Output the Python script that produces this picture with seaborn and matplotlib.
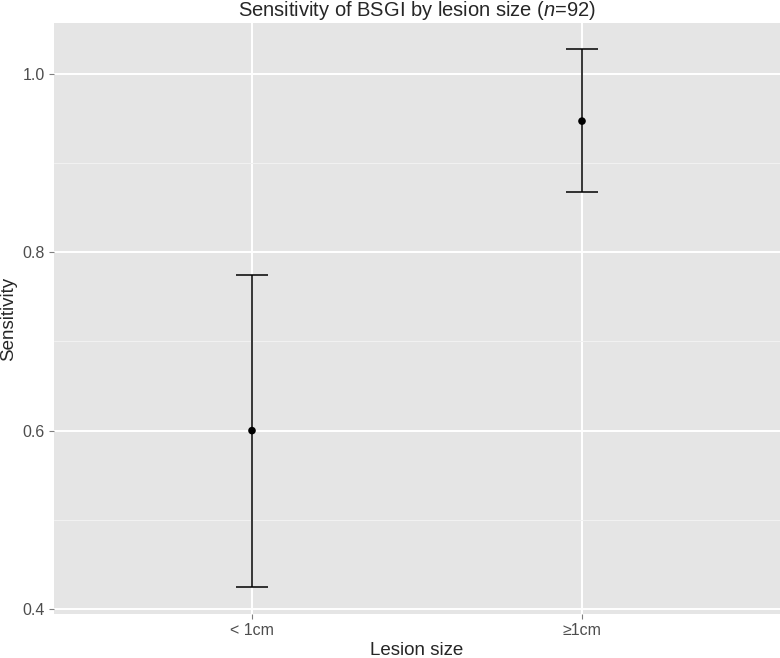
import numpy as np
import seaborn as sns
import pandas as pd
import matplotlib.pyplot as plt

# values
sizes = ['< 1cm', '\u22651cm']
sens = [0.600, 0.947]
lower = [0.425, 0.868]
upper = [0.775, 1.028]

df = pd.DataFrame({'Lesion size': sizes, 'Sensitivity': sens})

sns.set_theme(style="darkgrid")
plt.rcParams['font.family'] = ['Liberation Sans', 'DejaVu Sans']
plt.rcParams['mathtext.fontset'] = 'custom'
plt.rcParams['mathtext.rm'] = 'Liberation Sans'
plt.rcParams['mathtext.it'] = 'Liberation Sans:italic'

fig = plt.figure(figsize=(7.8, 6.58), dpi=100)
ax = fig.add_axes([54/780, 44/658, 726/780, 591/658])
ax.set_facecolor('#e5e5e5')

sns.scatterplot(data=df, x='Lesion size', y='Sensitivity', ax=ax,
                color='black', s=30, edgecolor='none', zorder=4)
err = [np.array(sens) - np.array(lower), np.array(upper) - np.array(sens)]
ax.errorbar(range(len(sizes)), sens, yerr=err, fmt='none', ecolor='black',
            elinewidth=1.1, capsize=11.5, capthick=1.1, zorder=3)

ax.set_xlim(-0.6, 1.6)
ax.set_ylim(0.3944, 1.057)
ax.set_yticks([0.4, 0.6, 0.8, 1.0])
ax.set_yticklabels(['0.4', '0.6', '0.8', '1.0'])
ax.set_yticks([0.5, 0.7, 0.9], minor=True)
ax.grid(which='major', color='white', linewidth=1.4)
ax.grid(which='minor', axis='y', color='#f2f2f2', linewidth=0.7)
ax.grid(which='minor', axis='x', visible=False)
for s in ax.spines.values():
    s.set_visible(False)
ax.tick_params(axis='both', which='major', length=3.5, width=0.8, color='#7f7f7f',
               labelsize=11.5, labelcolor='#4d4d4d', pad=3, left=True, bottom=True)
ax.tick_params(axis='both', which='minor', length=0)

ax.set_xlabel('Lesion size', fontsize=13.5, labelpad=3)
ax.set_ylabel('Sensitivity', fontsize=13.5, labelpad=4)
ax.set_title('Sensitivity of BSGI by lesion size ($\\mathit{n}$=92)', fontsize=14.5, pad=5)

plt.savefig('out.png', dpi=100)
